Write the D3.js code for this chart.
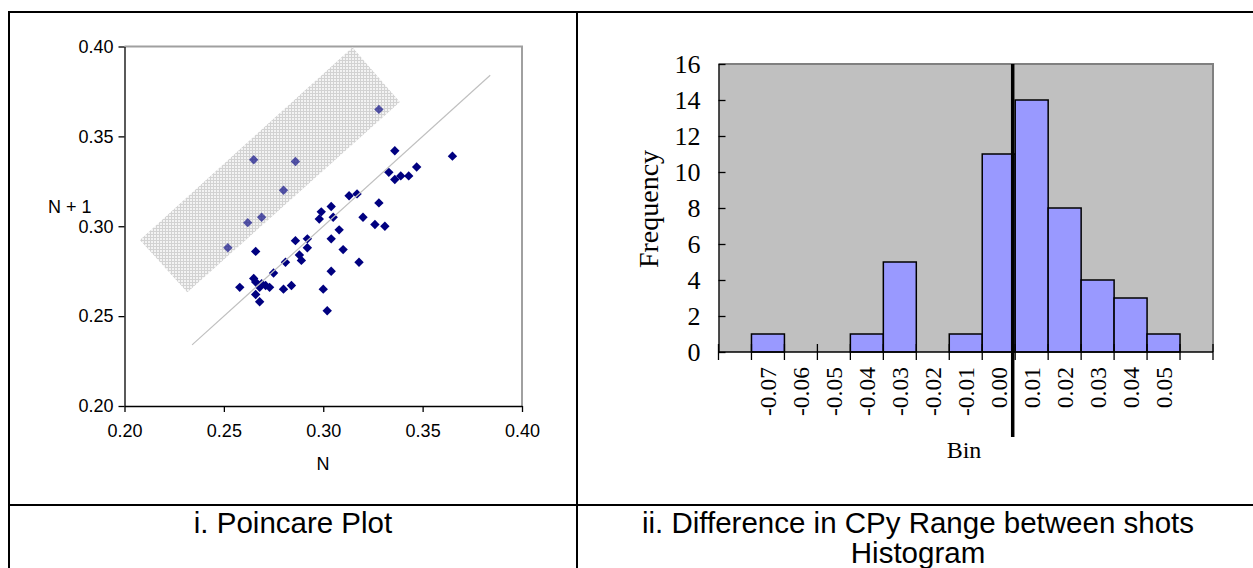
<!DOCTYPE html>
<html>
<head>
<meta charset="utf-8">
<script src="https://cdn.jsdelivr.net/npm/d3@7"></script>
<style>
  body { margin: 0; background: #fff; }
</style>
</head>
<body>
<div id="drawing"></div>
<script>
const width = 1253;
const height = 568;

// --- Poincare plot data (N, N + 1)
const nValues = [
  0.328, 0.265, 0.286, 0.280, 0.269, 0.262, 0.252,
  0.336, 0.365, 0.347, 0.333, 0.339, 0.343, 0.336, 0.313, 0.317, 0.304,
  0.299, 0.298, 0.305, 0.328, 0.320, 0.326, 0.331, 0.308, 0.304, 0.292,
  0.286, 0.266, 0.292, 0.310, 0.288, 0.289, 0.281, 0.318, 0.304, 0.275,
  0.265, 0.266, 0.269, 0.273, 0.271, 0.268, 0.258, 0.280, 0.284, 0.300,
  0.266, 0.268, 0.302
];
const n1Values = [
  0.365, 0.337, 0.336, 0.320, 0.305, 0.302, 0.288,
  0.342, 0.339, 0.333, 0.330, 0.328, 0.328, 0.326, 0.317, 0.318, 0.311,
  0.308, 0.304, 0.305, 0.313, 0.305, 0.301, 0.300, 0.298, 0.293, 0.293,
  0.292, 0.286, 0.288, 0.287, 0.284, 0.281, 0.280, 0.280, 0.275, 0.274,
  0.271, 0.269, 0.268, 0.266, 0.267, 0.266, 0.266, 0.265, 0.267, 0.265,
  0.262, 0.258, 0.253
];
// shaded band (annotation), corners in data units
const bandCorners = [[0.2078, 0.2924], [0.3147, 0.3995], [0.3385, 0.3691], [0.2316, 0.2633]];
// identity line N+1 = N
const identityRange = [0.234, 0.384];
const scatterTicks = [0.20, 0.25, 0.30, 0.35, 0.40];

// --- Histogram data
const bins = ["", "-0.07", "-0.06", "-0.05", "-0.04", "-0.03", "-0.02", "-0.01",
              "0.00", "0.01", "0.02", "0.03", "0.04", "0.05", ""];
const frequency = [0, 1, 0, 0, 1, 5, 0, 1, 11, 14, 8, 4, 3, 1, 0];
const freqTicks = [0, 2, 4, 6, 8, 10, 12, 14, 16];

const captionLeft = ["i. Poincare Plot"];
const captionRight = ["ii. Difference in CPy Range between shots", "Histogram"];

const svg = d3.select("#drawing").append("svg")
  .attr("width", width)
  .attr("height", height);

// table frame
const frame = svg.append("g").attr("stroke", "#000").attr("stroke-width", 2).attr("fill", "none");
frame.append("rect").attr("x", 9).attr("y", 12).attr("width", 1300).attr("height", 600);
frame.append("line").attr("x1", 577).attr("x2", 577).attr("y1", 12).attr("y2", 600);
frame.append("line").attr("x1", 9).attr("x2", 1300).attr("y1", 505).attr("y2", 505);

// ================= Poincare plot =================
const sans = "'Liberation Sans', Arial, sans-serif";
const x = d3.scaleLinear().domain([0.2, 0.4]).range([124.5, 522]);
const y = d3.scaleLinear().domain([0.2, 0.4]).range([406, 46.5]);

const defs = svg.append("defs");
const pat = defs.append("pattern")
  .attr("id", "hatch")
  .attr("patternUnits", "userSpaceOnUse")
  .attr("width", 3).attr("height", 3);
pat.append("rect").attr("width", 3).attr("height", 3).attr("fill", "#f3f3f3");
pat.append("path").attr("d", "M0,0.5H3M0.5,0V3").attr("stroke", "#d2d2d2").attr("stroke-width", 1);

const left = svg.append("g");

// plot border (grey top/right)
left.append("path")
  .attr("d", `M${x(0.2)},${y(0.4)}H${x(0.4)}V${y(0.2)}`)
  .attr("fill", "none").attr("stroke", "#a0a0a0").attr("stroke-width", 2);

const bandPath = d3.line().x(d => x(d[0])).y(d => y(d[1])).curve(d3.curveLinearClosed);

left.append("path")
  .attr("d", bandPath(bandCorners))
  .attr("fill", "url(#hatch)");

const points = d3.zip(nValues, n1Values);
const dsz = 4.7;
left.selectAll(".pt")
  .data(points)
  .enter()
  .append("path")
    .attr("class", "pt")
    .attr("d", d => `M${x(d[0])},${y(d[1]) - dsz}L${x(d[0]) + dsz},${y(d[1])}L${x(d[0])},${y(d[1]) + dsz}L${x(d[0]) - dsz},${y(d[1])}Z`)
    .attr("fill", "#000080");

left.append("line")
  .attr("x1", x(identityRange[0])).attr("y1", y(identityRange[0]))
  .attr("x2", x(identityRange[1])).attr("y2", y(identityRange[1]))
  .attr("stroke", "#c0c0c0").attr("stroke-width", 1.2);

// band overlay lightens the points inside it
left.append("path")
  .attr("d", bandPath(bandCorners))
  .attr("fill", "url(#hatch)")
  .attr("opacity", 0.35);

const yAxisL = left.append("g")
  .attr("transform", `translate(${x(0.2)},0)`)
  .call(d3.axisLeft(y).tickValues(scatterTicks).tickFormat(d3.format(".2f"))
    .tickSize(6).tickSizeOuter(0).tickPadding(5));
const xAxisL = left.append("g")
  .attr("transform", `translate(0,${y(0.2)})`)
  .call(d3.axisBottom(x).tickValues(scatterTicks).tickFormat(d3.format(".2f"))
    .tickSize(6).tickSizeOuter(0).tickPadding(12));
[yAxisL, xAxisL].forEach(g => {
  g.selectAll("text").style("font-family", sans).style("font-size", "18px").attr("fill", "#000");
  g.selectAll("line, path").attr("stroke", "#000").attr("stroke-width", 1.3);
});

left.append("text").attr("x", 48).attr("y", 213)
  .style("font-family", sans).style("font-size", "18px").text("N + 1");
left.append("text").attr("x", 323).attr("y", 470).attr("text-anchor", "middle")
  .style("font-family", sans).style("font-size", "18px").text("N");

// ================= Histogram =================
const serif = "'Liberation Serif', 'Times New Roman', serif";
const xb = d3.scaleBand().domain(d3.range(bins.length)).range([718.5, 1213]).padding(0);
const yb = d3.scaleLinear().domain([0, 16]).range([352, 64]);

const right = svg.append("g");
right.append("rect")
  .attr("x", xb.range()[0]).attr("y", yb(16))
  .attr("width", xb.range()[1] - xb.range()[0]).attr("height", yb(0) - yb(16))
  .attr("fill", "#c0c0c0");
right.append("path")
  .attr("d", `M${xb.range()[0]},${yb(16)}H${xb.range()[1]}V${yb(0)}`)
  .attr("fill", "none").attr("stroke", "#808080").attr("stroke-width", 2);

right.selectAll(".bar")
  .data(frequency)
  .enter()
  .append("rect")
    .attr("class", "bar")
    .attr("x", (d, i) => xb(i))
    .attr("y", d => yb(d))
    .attr("width", xb.bandwidth())
    .attr("height", d => yb(0) - yb(d))
    .attr("fill", "#9999ff")
    .attr("stroke", "#000")
    .attr("stroke-width", d => d > 0 ? 1.5 : 0);

// y axis, ticks inside
const yAxisR = right.append("g")
  .attr("transform", `translate(${xb.range()[0]},0)`)
  .call(d3.axisLeft(yb).tickValues(freqTicks).tickSize(-7).tickSizeOuter(0).tickPadding(18));
yAxisR.selectAll("text").style("font-family", serif).style("font-size", "26px").attr("fill", "#000");
yAxisR.selectAll("line, path").attr("stroke", "#000").attr("stroke-width", 1.3);

// x axis line with crossing ticks at category edges
right.append("line")
  .attr("x1", xb.range()[0]).attr("x2", xb.range()[1])
  .attr("y1", yb(0)).attr("y2", yb(0))
  .attr("stroke", "#000").attr("stroke-width", 1.5);
right.selectAll(".xtick")
  .data(d3.range(bins.length + 1))
  .enter()
  .append("line")
    .attr("class", "xtick")
    .attr("x1", i => xb.range()[0] + i * xb.step())
    .attr("x2", i => xb.range()[0] + i * xb.step())
    .attr("y1", yb(0) - 8).attr("y2", yb(0) + 8)
    .attr("stroke", "#000").attr("stroke-width", 1.3);

right.selectAll(".binlabel")
  .data(bins)
  .enter()
  .append("text")
    .attr("class", "binlabel")
    .attr("transform", (d, i) => `translate(${xb(i) + xb.bandwidth() / 2},${yb(0) + 15}) rotate(-90)`)
    .attr("text-anchor", "end")
    .attr("dy", "0.35em")
    .style("font-family", serif).style("font-size", "23.5px")
    .text(d => d);

// zero marker line
right.append("line")
  .attr("x1", xb(9) - 2.5).attr("x2", xb(9) - 2.5)
  .attr("y1", yb(16)).attr("y2", 437)
  .attr("stroke", "#000").attr("stroke-width", 3.5);

right.append("text")
  .attr("transform", `translate(648,209) rotate(-90)`)
  .attr("text-anchor", "middle").attr("dy", "0.35em")
  .style("font-family", serif).style("font-size", "28px").text("Frequency");
right.append("text").attr("x", 964).attr("y", 458).attr("text-anchor", "middle")
  .style("font-family", serif).style("font-size", "24px").text("Bin");

// ================= Captions =================
svg.append("text").attr("x", 293).attr("y", 533).attr("text-anchor", "middle")
  .style("font-family", sans).style("font-size", "29.5px").text(captionLeft[0]);
svg.selectAll(".capR")
  .data(captionRight)
  .enter()
  .append("text")
    .attr("class", "capR")
    .attr("x", 918).attr("y", (d, i) => 533 + i * 30)
    .attr("text-anchor", "middle")
    .style("font-family", sans).style("font-size", "29.5px")
    .text(d => d);
</script>
</body>
</html>
